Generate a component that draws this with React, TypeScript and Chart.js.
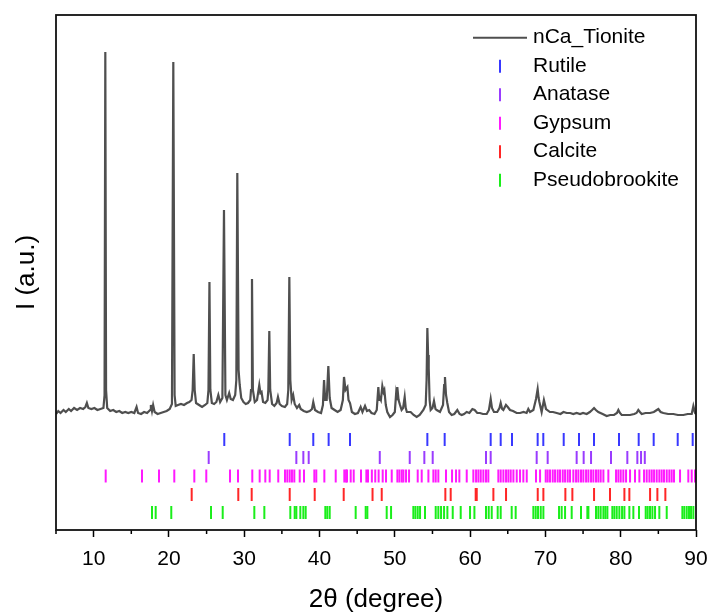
import React, { useEffect, useRef } from "react";
import { Chart, registerables } from "chart.js";

Chart.register(...registerables);

// ---------- data ----------
const X_MIN = 5;
const X_MAX = 90;
const X_MAJOR_TICKS = [10, 20, 30, 40, 50, 60, 70, 80, 90];
const X_MINOR_TICKS = [5, 15, 25, 35, 45, 55, 65, 75, 85];
const Y_MAX = 515;

const SAMPLE_NAME = "nCa_Tionite";

// [2θ, intensity (a.u.)]
const PATTERN: [number, number][] = [
  [5.0, 116], [5.3, 119], [5.6, 117], [6.0, 120], [6.3, 118], [6.7, 121], [7.0, 119], [7.4, 122],
  [7.8, 120], [8.2, 122], [8.6, 121], [8.9, 123], [9.1, 127], [9.3, 122], [9.7, 121], [10.1, 122],
  [10.5, 120], [10.9, 121], [11.3, 122], [11.45, 135], [11.55, 478], [11.65, 140], [11.8, 122],
  [12.2, 119], [12.6, 120], [13.0, 118], [13.4, 119], [13.8, 117], [14.2, 118], [14.6, 117],
  [15.0, 118], [15.4, 117], [15.7, 123], [15.9, 117], [16.3, 116], [16.7, 118], [17.1, 117],
  [17.5, 120], [17.6, 125], [17.75, 119], [17.9, 125], [18.1, 118], [18.5, 116], [18.9, 117],
  [19.3, 118], [19.7, 119], [20.1, 121], [20.4, 126], [20.58, 468], [20.75, 135], [20.9, 124],
  [21.2, 125], [21.6, 126], [22.0, 125], [22.4, 127], [22.7, 128], [23.0, 130], [23.15, 140],
  [23.29, 176], [23.42, 140], [23.6, 127], [24.0, 125], [24.4, 123], [24.8, 125], [25.1, 127],
  [25.25, 140], [25.38, 248], [25.5, 140], [25.7, 127], [26.0, 126], [26.3, 128], [26.56, 135],
  [26.8, 128], [27.1, 132], [27.31, 320], [27.5, 135], [27.7, 130], [28.0, 137], [28.2, 131],
  [28.5, 130], [28.8, 135], [28.95, 150], [29.08, 357], [29.25, 160], [29.4, 145], [29.6, 132],
  [29.9, 128], [30.2, 126], [30.5, 127], [30.8, 130], [30.9, 140], [31.03, 251], [31.15, 140],
  [31.4, 128], [31.7, 130], [31.9, 140], [32.0, 145], [32.15, 137], [32.3, 138], [32.5, 128],
  [32.8, 127], [33.1, 130], [33.2, 140], [33.33, 199], [33.45, 140], [33.7, 126], [34.0, 124],
  [34.3, 127], [34.48, 133], [34.7, 126], [35.0, 124], [35.4, 123], [35.7, 126], [35.85, 140],
  [35.99, 253], [36.12, 150], [36.3, 130], [36.5, 135], [36.7, 126], [37.0, 122], [37.3, 125],
  [37.5, 121], [37.9, 119], [38.3, 118], [38.7, 119], [39.0, 121], [39.17, 128], [39.4, 120],
  [39.8, 118], [40.2, 117], [40.45, 125], [40.6, 150], [40.75, 130], [40.95, 130], [41.17, 164],
  [41.35, 132], [41.6, 122], [42.0, 120], [42.4, 118], [42.8, 120], [43.1, 130], [43.25, 153],
  [43.45, 140], [43.7, 143], [43.85, 130], [44.05, 127], [44.3, 118], [44.7, 116], [45.1, 117],
  [45.46, 123], [45.7, 118], [46.04, 124], [46.3, 119], [46.6, 120], [46.9, 117], [47.3, 116],
  [47.6, 120], [47.81, 143], [47.93, 130], [48.03, 132], [48.15, 130], [48.34, 144], [48.5, 138],
  [48.61, 140], [48.8, 125], [49.0, 118], [49.36, 113], [49.7, 115], [50.0, 118], [50.16, 135],
  [50.25, 130], [50.33, 143], [50.5, 130], [50.69, 125], [50.9, 120], [51.1, 122], [51.31, 133],
  [51.45, 122], [51.6, 118], [52.1, 118], [52.5, 115], [52.9, 113], [53.3, 115], [53.79, 120],
  [54.1, 125], [54.22, 150], [54.32, 202], [54.42, 175], [54.5, 162], [54.62, 130], [54.76, 120],
  [55.0, 122], [55.2, 129], [55.4, 121], [55.56, 120], [56.0, 118], [56.4, 125], [56.55, 145],
  [56.66, 153], [56.8, 135], [56.97, 127], [57.2, 118], [57.55, 115], [57.9, 116], [58.3, 120],
  [58.6, 116], [58.88, 115], [59.2, 116], [59.54, 118], [59.9, 117], [60.3, 121], [60.6, 120],
  [60.95, 117], [61.31, 117], [61.7, 116], [62.2, 116], [62.5, 120], [62.73, 131], [62.9, 122],
  [63.17, 118], [63.6, 118], [63.9, 122], [64.06, 127], [64.25, 121], [64.41, 120], [64.76, 125],
  [65.0, 123], [65.3, 120], [65.7, 119], [66.18, 117], [66.63, 117], [67.1, 118], [67.5, 117],
  [67.73, 121], [67.96, 118], [68.4, 120], [68.75, 131], [68.97, 141], [69.1, 132], [69.2, 128],
  [69.5, 118], [69.8, 130], [70.08, 121], [70.6, 118], [71.0, 118], [71.5, 117], [72.0, 116],
  [72.4, 118], [72.83, 117], [73.3, 117], [73.7, 116], [74.15, 117], [74.6, 116], [75.0, 117],
  [75.48, 116], [75.9, 118], [76.2, 120], [76.46, 122], [76.7, 120], [77.03, 118], [77.6, 116],
  [78.14, 114], [78.6, 115], [79.11, 115], [79.5, 117], [79.69, 120], [79.9, 117], [80.13, 115],
  [80.6, 115], [81.24, 115], [81.8, 116], [82.1, 117], [82.34, 120], [82.55, 118], [82.79, 116],
  [83.3, 117], [83.89, 117], [84.4, 118], [84.8, 120], [85.0, 121], [85.3, 118], [85.66, 117],
  [86.3, 116], [86.99, 116], [87.6, 115], [88.32, 115], [88.9, 116], [89.43, 116], [89.65, 124],
  [89.87, 117], [90.0, 116],
];

// reference peak positions (2θ)
const RUTILE = [27.35, 36.04, 39.17, 41.21, 44.05, 54.32, 56.62, 62.73, 64.06, 65.56, 68.97, 69.72,
  72.43, 74.46, 76.45, 79.77, 82.39, 84.38, 87.57, 89.56];
const ANATASE = [25.28, 36.92, 37.85, 38.56, 48.0, 51.98, 53.92, 55.03, 62.11, 62.73, 68.84, 70.3,
  74.15, 75.08, 76.06, 78.71, 80.88, 82.21, 82.7, 83.2];
const GYPSUM = [11.6, 16.42, 18.68, 20.71, 23.37, 24.96, 28.11, 29.17, 31.07, 32.05, 32.8, 33.38,
  34.52, 35.41, 35.72, 36.04, 36.34, 36.65, 37.37, 37.94, 39.31, 39.57, 40.64, 42.15, 43.29, 43.52,
  43.65, 44.14, 44.54, 45.51, 46.22, 46.44, 46.95, 47.4, 47.85, 48.39, 48.83, 49.59, 50.34, 50.61,
  50.92, 51.14, 51.49, 51.89, 53.04, 53.57, 54.46, 55.12, 55.43, 55.78, 56.8, 57.6, 58.13, 58.57,
  59.55, 60.43, 60.79, 61.1, 61.41, 61.76, 62.11, 62.42, 63.75, 64.06, 64.42, 64.77, 65.08, 65.39,
  65.75, 66.19, 66.63, 67.07, 67.52, 68.75, 69.29, 70.04, 70.3, 70.61, 70.97, 71.28, 71.63, 71.94,
  72.3, 72.61, 72.96, 73.27, 73.71, 74.07, 74.38, 74.73, 75.04, 75.4, 75.71, 76.06, 76.37, 76.72,
  77.03, 77.34, 77.7, 78.36, 79.38, 79.69, 80.0, 80.35, 80.71, 81.24, 81.9, 82.48, 83.1, 83.45,
  83.81, 84.12, 84.43, 84.78, 85.13, 85.44, 85.75, 86.11, 86.46, 86.77, 87.08, 87.88, 88.98, 89.43,
  89.87];
const CALCITE = [23.02, 29.21, 30.99, 36.04, 39.36, 43.21, 47.04, 48.26, 56.71, 57.42, 60.74, 60.88,
  63.09, 64.77, 68.98, 69.73, 72.65, 73.58, 76.46, 78.58, 80.49, 81.15, 83.9, 84.87, 85.93];
const PSEUDOBROOKITE = [17.75, 18.24, 20.31, 25.59, 27.14, 31.34, 32.67, 36.12, 36.7, 36.92, 37.45,
  37.85, 38.16, 40.77, 41.03, 41.35, 44.8, 46.13, 46.35, 48.92, 49.5, 52.46, 52.73, 53.04, 53.35,
  54.01, 55.43, 55.78, 56.14, 56.54, 56.98, 57.69, 58.75, 59.99, 60.57, 62.11, 62.47, 62.87, 63.66,
  64.06, 65.52, 66.05, 68.4, 68.71, 69.02, 69.38, 69.73, 71.81, 72.16, 72.61, 73.49, 74.73, 75.57,
  75.71, 76.72, 77.03, 77.34, 77.7, 77.96, 78.23, 78.89, 79.16, 79.47, 79.82, 80.18, 80.49, 81.15,
  81.68, 82.43, 83.32, 83.58, 83.89, 84.21, 84.56, 85.13, 86.11, 88.19, 88.45, 88.77, 89.07, 89.34,
  89.65];

const PHASE_NAMES = ["Rutile", "Anatase", "Gypsum", "Calcite", "Pseudobrookite"];
const PHASE_POSITIONS = [RUTILE, ANATASE, GYPSUM, CALCITE, PSEUDOBROOKITE];
const PHASE_LEVELS = [90.5, 72.5, 54, 35.5, 17.5];
const PHASE_COLORS = ["#3838ff", "#9a3cff", "#ff1aff", "#ff2626", "#1aee1a"];

const LINE_COLOR = "#4f4f4f";
const FONT = "'Liberation Sans', Arial, Helvetica, sans-serif";

// ---------- plugins ----------
const framePlugin = {
  id: "frameAndLegend",
  afterDraw(chart: any) {
    const { ctx, chartArea } = chart;
    const xs = chart.scales.x;
    ctx.save();
    // minor ticks
    ctx.strokeStyle = "#000";
    ctx.lineWidth = 1.5;
    X_MINOR_TICKS.forEach((v) => {
      const px = xs.getPixelForValue(v);
      ctx.beginPath();
      ctx.moveTo(px, chartArea.bottom);
      ctx.lineTo(px, chartArea.bottom + 4);
      ctx.stroke();
    });
    // frame
    ctx.lineWidth = 1.8;
    ctx.strokeStyle = "#111";
    ctx.strokeRect(chartArea.left, chartArea.top, chartArea.right - chartArea.left, chartArea.bottom - chartArea.top);

    // legend
    const lx = chartArea.right - 223;
    const tx = chartArea.right - 163;
    const y0 = chartArea.top + 22.7;
    const step = 28.5;
    ctx.font = `21px ${FONT}`;
    ctx.textBaseline = "middle";
    ctx.textAlign = "left";
    ctx.fillStyle = "#000";
    ctx.strokeStyle = LINE_COLOR;
    ctx.lineWidth = 2;
    ctx.beginPath();
    ctx.moveTo(lx, y0);
    ctx.lineTo(lx + 54, y0);
    ctx.stroke();
    ctx.fillText(SAMPLE_NAME, tx, y0);
    PHASE_NAMES.forEach((name, i) => {
      const y = y0 + step * (i + 1);
      ctx.strokeStyle = PHASE_COLORS[i];
      ctx.lineWidth = 2;
      ctx.beginPath();
      ctx.moveTo(lx + 27, y - 6.5);
      ctx.lineTo(lx + 27, y + 6.5);
      ctx.stroke();
      ctx.fillStyle = "#000";
      ctx.fillText(name, tx, y);
    });
    ctx.restore();
  },
};

export default function App() {
  const ref = useRef<HTMLCanvasElement | null>(null);

  useEffect(() => {
    if (!ref.current) return;
    const datasets: any[] = [
      {
        label: SAMPLE_NAME,
        data: PATTERN.map(([x, y]) => ({ x, y })),
        showLine: true,
        borderColor: LINE_COLOR,
        borderWidth: 2.2,
        pointRadius: 0,
        tension: 0,
        order: 0,
      },
    ];
    PHASE_NAMES.forEach((name, i) => {
      datasets.push({
        label: name,
        data: PHASE_POSITIONS[i].map((x) => ({ x, y: PHASE_LEVELS[i] })),
        showLine: false,
        pointStyle: "line",
        rotation: 90,
        pointRadius: 6.5,
        pointBorderWidth: 2,
        borderWidth: 2,
        borderColor: PHASE_COLORS[i],
        backgroundColor: PHASE_COLORS[i],
        order: 1,
      });
    });

    const chart = new Chart(ref.current, {
      type: "scatter",
      data: { datasets },
      plugins: [framePlugin],
      options: {
        animation: false,
        responsive: true,
        maintainAspectRatio: false,
        layout: { padding: { top: 15, right: 13, left: 0, bottom: 0 } },
        plugins: { legend: { display: false }, tooltip: { enabled: false } },
        scales: {
          x: {
            type: "linear",
            min: X_MIN,
            max: X_MAX,
            afterFit: (s: any) => { s.height = 83; s.paddingLeft = 0; s.paddingRight = 0; },
            afterBuildTicks: (s: any) => { s.ticks = X_MAJOR_TICKS.map((v) => ({ value: v })); },
            border: { display: false },
            grid: { drawOnChartArea: false, drawTicks: true, tickLength: 7, tickColor: "#000", tickWidth: 1.5 },
            ticks: { color: "#000", font: { family: FONT, size: 21 }, padding: 10, maxRotation: 0 },
            title: {
              display: true,
              text: "2θ (degree)",
              color: "#000",
              font: { family: FONT, size: 26 },
              padding: { top: 0, bottom: -2 },
            },
          },
          y: {
            type: "linear",
            min: 0,
            max: Y_MAX,
            afterFit: (s: any) => { s.width = 56; s.paddingTop = 0; s.paddingBottom = 0; },
            border: { display: false },
            grid: { display: false },
            ticks: { display: false },
            title: {
              display: true,
              text: "I (a.u.)",
              color: "#000",
              font: { family: FONT, size: 26 },
              padding: { top: 11, bottom: 0 },
            },
          },
        },
      },
    });
    return () => chart.destroy();
  }, []);

  return (
    <div style={{ position: "fixed", left: 0, top: 0, width: 709, height: 613, background: "#fff" }}>
      <canvas ref={ref} />
    </div>
  );
}
